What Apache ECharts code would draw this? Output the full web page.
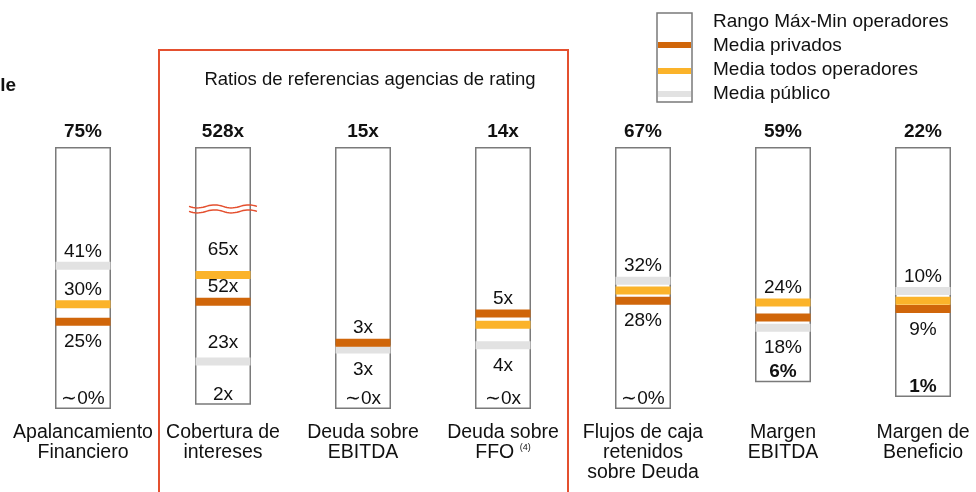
<!DOCTYPE html>
<html>
<head>
<meta charset="utf-8">
<script src="https://cdn.jsdelivr.net/npm/echarts@6/dist/echarts.min.js"></script>
<style>
  html, body { margin: 0; padding: 0; background: #fff; overflow: hidden; }
  #chart { width: 1000px; height: 492px; }
</style>
</head>
<body>
<div id="chart"></div>
<script>
// categorias y valores
const categorias = ['Apalancamiento\nFinanciero', 'Cobertura de\nintereses', 'Deuda sobre\nEBITDA',
    'Deuda sobre\nFFO {sup|(4)}', 'Flujos de caja\nretenidos\nsobre Deuda', 'Margen\nEBITDA', 'Margen de\nBeneficio'];
const unidad = ['%', 'x', 'x', 'x', '%', '%', '%'];
const maximo = [75, 528, 15, 14, 67, 59, 22];
const minimo = [0, 2, 0, 0, 0, 6, 1];
const etqMinimo = ['∼0%', '2x', '∼0x', '∼0x', '∼0%', '6%', '1%'];
const minimoNegrita = [false, false, false, false, false, true, true];
// valor que corresponde al borde superior de cada caja (Cobertura tiene corte)
const escalaTope = [75, 127, 15, 14, 67, 59, 22];
const corteCobertura = 97;

const mediaPrivados = [25, 52, 3.8, 5.1, 27.7, 20.6, 8.4];
const mediaTodos = [30, 65, null, 4.5, 30.3, 24, 9.1];
const mediaPublico = [41, 23, 3.4, 3.4, 32.8, 18.3, 9.9];

const etqPrivados = ['25%', '52x', '3x', '5x', '28%', '', '9%'];
const posPrivados = ['bottom', 'top', 'top', 'top', 'bottom', 'top', 'bottom'];
const etqTodos = ['30%', '65x', '', '', '', '24%', ''];
const posTodos = ['top', 'top', 'top', 'top', 'top', 'top', 'top'];
const etqPublico = ['41%', '23x', '3x', '4x', '32%', '18%', '10%'];
const posPublico = ['top', 'top', 'bottom', 'bottom', 'top', 'bottom', 'top'];

const colPrivados = '#D0660A';
const colTodos = '#FBB32A';
const colPublico = '#E2E2E2';
const colBorde = '#7a7a7a';
const colRojo = '#E4502F';
const fuente = 'Liberation Sans, Arial, sans-serif';
const tam = 19;

function norm(v, i) {
    if (v === null) return null;
    return Math.min(v, escalaTope[i]) / escalaTope[i] * 100;
}

let base = minimo.map((v, i) => norm(v, i));
let rango = maximo.map((v, i) => norm(v, i) - norm(minimo[i], i));

function puntos(valores, etiquetas, posiciones, extra) {
    return valores.map((v, i) => {
        if (v === null) return null;
        const arriba = posiciones[i] === 'top';
        return {
            value: [i, norm(v, i)],
            label: {
                show: etiquetas[i] !== '',
                formatter: etiquetas[i],
                position: posiciones[i],
                distance: (arriba ? 1 : 7) + ((extra && extra[i]) || 0)
            }
        };
    }).filter(d => d !== null);
}

function serieMedia(nombre, color, valores, etiquetas, posiciones, extra) {
    return {
        name: nombre,
        type: 'scatter',
        symbol: 'rect',
        symbolSize: [55, 8],
        itemStyle: { color: color, opacity: 1 },
        z: 5,
        label: { color: '#111', fontSize: tam, fontFamily: fuente },
        data: puntos(valores, etiquetas, posiciones, extra)
    };
}

let chartDom = document.getElementById('chart');
let myChart = echarts.init(chartDom);
let option;

option = {
    animation: false,
    grid: { left: 13, width: 980, top: 147, bottom: 83 },
    xAxis: {
        type: 'category',
        data: categorias,
        axisLine: { show: false },
        axisTick: { show: false },
        axisLabel: {
            interval: 0,
            margin: 14,
            color: '#111',
            fontSize: 19.5,
            lineHeight: 20,
            fontFamily: fuente,
            rich: { sup: { fontSize: 9, verticalAlign: 'top', padding: [0, 0, 8, 0], color: '#111' } }
        }
    },
    yAxis: { type: 'value', min: 0, max: 100, show: false },
    series: [
        {
            type: 'bar',
            stack: 'caja',
            barWidth: 56,
            itemStyle: { color: 'transparent' },
            data: base
        },
        {
            type: 'bar',
            stack: 'caja',
            barWidth: 56,
            itemStyle: { color: '#fff', borderColor: colBorde, borderWidth: 1.5 },
            label: {
                show: true,
                position: 'top',
                distance: 6,
                fontWeight: 'bold',
                fontSize: tam,
                fontFamily: fuente,
                color: '#111',
                formatter: p => maximo[p.dataIndex] + unidad[p.dataIndex]
            },
            data: rango
        },
        {
            // etiquetas del minimo, dentro de la caja
            type: 'scatter',
            symbolSize: 0,
            z: 6,
            itemStyle: { opacity: 1 },
            label: {
                show: true,
                position: 'top',
                distance: 1,
                fontSize: tam,
                fontFamily: fuente,
                color: '#111'
            },
            data: minimo.map((v, i) => ({
                value: [i, norm(v, i)],
                label: { formatter: etqMinimo[i], fontWeight: minimoNegrita[i] ? 'bold' : 'normal' }
            }))
        },
        serieMedia('Media público', colPublico, mediaPublico, etqPublico, posPublico, { 1: 4 }),
        serieMedia('Media todos operadores', colTodos, mediaTodos, etqTodos, posTodos, { 1: 11 }),
        serieMedia('Media privados', colPrivados, mediaPrivados, etqPrivados, posPrivados)
    ],
    graphic: [
        { type: 'text', id: 'titIzq', x: 16, y: 86, style: { text: 'le', textAlign: 'right', textVerticalAlign: 'middle', font: 'bold 19px ' + fuente, fill: '#111' } },
        { type: 'rect', id: 'marco', shape: { x: 159, y: 50, width: 409, height: 470 }, style: { fill: 'none', stroke: colRojo, lineWidth: 2 } },
        { type: 'text', id: 'titMarco', x: 370, y: 80, style: { text: 'Ratios de referencias agencias de rating', textAlign: 'center', textVerticalAlign: 'middle', font: '18.5px ' + fuente, fill: '#111' } },
        // leyenda
        { type: 'rect', id: 'ley0', shape: { x: 657, y: 13, width: 35, height: 89 }, style: { fill: '#fff', stroke: colBorde, lineWidth: 1.5 } },
        { type: 'rect', id: 'ley1', shape: { x: 658, y: 42, width: 33, height: 6 }, style: { fill: colPrivados } },
        { type: 'rect', id: 'ley2', shape: { x: 658, y: 68, width: 33, height: 6 }, style: { fill: colTodos } },
        { type: 'rect', id: 'ley3', shape: { x: 658, y: 91, width: 33, height: 6 }, style: { fill: colPublico } },
        { type: 'text', id: 'leyT0', x: 713, y: 22, style: { text: 'Rango Máx-Min operadores', textVerticalAlign: 'middle', font: tam + 'px ' + fuente, fill: '#111' } },
        { type: 'text', id: 'leyT1', x: 713, y: 46, style: { text: 'Media privados', textVerticalAlign: 'middle', font: tam + 'px ' + fuente, fill: '#111' } },
        { type: 'text', id: 'leyT2', x: 713, y: 70, style: { text: 'Media todos operadores', textVerticalAlign: 'middle', font: tam + 'px ' + fuente, fill: '#111' } },
        { type: 'text', id: 'leyT3', x: 713, y: 94, style: { text: 'Media público', textVerticalAlign: 'middle', font: tam + 'px ' + fuente, fill: '#111' } }
    ]
};

option && myChart.setOption(option);

// marca de corte en la escala de Cobertura de intereses
let pc = myChart.convertToPixel({ seriesIndex: 1 }, [1, norm(corteCobertura, 1)]);
function onda(y0) {
    let pts = [];
    for (let dx = -34; dx <= 34; dx += 2) {
        pts.push([pc[0] + dx, y0 + 1.5 * Math.sin(dx / 34 * 2 * Math.PI)]);
    }
    return pts;
}
myChart.setOption({
    graphic: [
        { type: 'polyline', id: 'corte1', z: 10, shape: { points: onda(pc[1] - 2.5) }, style: { stroke: colRojo, lineWidth: 1.5, fill: 'none' } },
        { type: 'polyline', id: 'corte2', z: 10, shape: { points: onda(pc[1] + 2.5) }, style: { stroke: colRojo, lineWidth: 1.5, fill: 'none' } }
    ]
});
</script>
</body>
</html>
